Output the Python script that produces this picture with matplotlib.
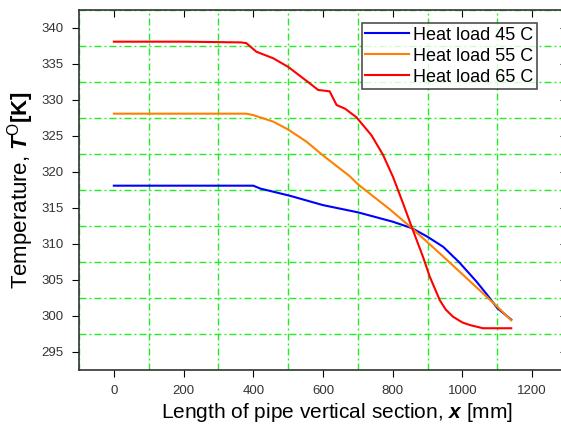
import numpy as np
import matplotlib
matplotlib.use('Agg')
import matplotlib.pyplot as plt
from matplotlib.ticker import MultipleLocator

plt.rcParams['font.family'] = ['Liberation Sans', 'DejaVu Sans']
plt.rcParams['mathtext.fontset'] = 'custom'
plt.rcParams['mathtext.rm'] = 'Liberation Sans'
plt.rcParams['mathtext.it'] = 'Liberation Sans:italic'
plt.rcParams['mathtext.bf'] = 'Liberation Sans:bold'
plt.rcParams['mathtext.bfit'] = 'Liberation Sans:italic:bold'

# data
x45 = [0, 200, 400, 420, 505, 600, 700, 800, 855, 900, 945, 990, 1040, 1070, 1100, 1140]
t45 = [318.1, 318.1, 318.1, 317.7, 316.7, 315.4, 314.4, 313.1, 312.2, 311.0, 309.6, 307.5, 304.8, 303.0, 301.1, 299.5]

x55 = [0, 200, 380, 400, 457, 500, 553, 600, 677, 700, 792, 855, 944, 1040, 1100, 1140]
t55 = [328.1, 328.1, 328.1, 327.9, 327.0, 325.9, 324.2, 322.3, 319.4, 318.3, 314.8, 312.2, 308.3, 304.0, 301.3, 299.4]

x65 = [0, 200, 365, 380, 409, 457, 500, 557, 586, 619, 639, 663, 696, 739, 772, 801,
       830, 855, 887, 906, 935, 952, 973, 1000, 1021, 1059, 1100, 1140]
t65 = [338.1, 338.1, 338.0, 337.9, 336.7, 335.8, 334.6, 332.5, 331.4, 331.2, 329.3, 328.8, 327.6, 325.1, 322.4, 319.3,
       315.6, 312.3, 308.2, 305.5, 302.2, 300.9, 299.9, 299.1, 298.75, 298.3, 298.3, 298.3]

labels = ['Heat load 45 C', 'Heat load 55 C', 'Heat load 65 C']
colors = ['#0000ff', '#ff8000', '#ff0000']

fig = plt.figure(figsize=(5.61, 4.30), dpi=100)
ax = fig.add_axes([79 / 561, 60 / 430, 488 / 561, 360 / 430])

for xs, ts, lab, c in zip([x45, x55, x65], [t45, t55, t65], labels, colors):
    ax.plot(xs, ts, color=c, lw=1.5, label=lab, zorder=3)

ax.set_xlim(-100, 1300)
ax.set_ylim(292.5, 342.5)
ax.xaxis.set_major_locator(MultipleLocator(200))
ax.xaxis.set_minor_locator(MultipleLocator(200, offset=100))
ax.yaxis.set_major_locator(MultipleLocator(5))
ax.yaxis.set_minor_locator(MultipleLocator(5, offset=2.5))

ax.grid(which='minor', color='#22ee22', lw=1.0, ls=(0, (5, 2.2, 1.4, 2.2)))
ax.grid(which='major', visible=False)
ax.tick_params(which='minor', length=0)
ax.tick_params(axis='x', which='major', direction='out', length=5, top=True, labelsize=9.5,
               labelcolor='#333333', pad=6)
ax.tick_params(axis='y', which='major', direction='out', length=5, right=True, labelsize=9.5,
               labelcolor='#333333', pad=6)
for t in ax.xaxis.get_major_ticks():
    t.tick2line.set_marker(3)
for t in ax.yaxis.get_major_ticks():
    t.tick2line.set_marker(0)
for s in ax.spines.values():
    s.set_color('#333333')
    s.set_linewidth(1.2)

ax.set_xlabel(r'Length of pipe vertical section, $\mathbfit{x}$ [mm]', fontsize=15)
ax.xaxis.set_label_coords((337 - 79) / 488, -(413 - 370) / 360, transform=ax.transAxes)
ax.xaxis.label.set_va('center')
ax.set_ylabel(r'Temperature, $\mathbfit{T}^{\mathrm{O}}\mathbf{[K]}$', fontsize=16, labelpad=4)

leg = ax.legend(loc='upper right', bbox_to_anchor=((537 - 79) / 488, 1 - 13 / 360),
                fontsize=13, frameon=True, fancybox=False, shadow=False, handlelength=2.4,
                handletextpad=0.25, labelspacing=0.22, borderpad=0.2, borderaxespad=0.0)
leg.get_frame().set_edgecolor('#222222')
leg.get_frame().set_linewidth(1.2)
leg.set_zorder(5)

fig.savefig('out.png', dpi=100)
